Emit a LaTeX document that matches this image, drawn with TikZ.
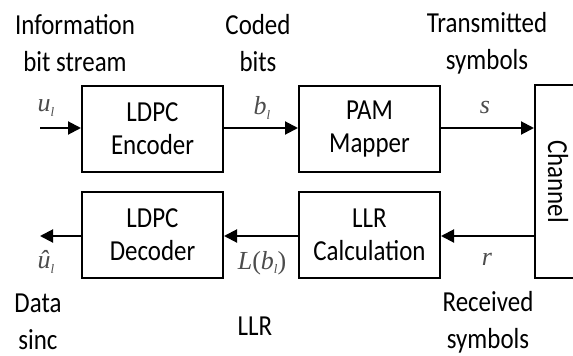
\documentclass[tikz,border=0pt]{standalone}
\usepackage{fontspec}
\setmainfont{Carlito}[FakeStretch=0.86]
\newfontfamily\tms{Liberation Serif}
\usetikzlibrary{arrows.meta}
\newcommand{\mv}[2]{{\tms\itshape #1\raisebox{-0.35ex}{\fontsize{13}{13}\selectfont #2}}}
\begin{document}
\begin{tikzpicture}[x=1pt,y=-1pt,
  blk/.style={draw,line width=2pt,minimum width=141pt,minimum height=86pt,inner sep=0pt,align=center,font=\fontsize{29}{33}\selectfont},
  lbl/.style={align=center,font=\fontsize{29}{37}\selectfont,inner sep=0pt},
  sym/.style={inner sep=0pt,text=black!70,font=\fontsize{26}{26}\selectfont},
  conn/.style={line width=2pt,-{Triangle[length=13pt,width=13pt]}}]
\useasboundingbox (0,0) rectangle (573,356);
\clip (0,0) rectangle (573,356);
\node[blk] (enc) at (152.5,129) {LDPC\\Encoder};
\node[blk] (pam) at (369.5,129) {PAM\\Mapper};
\node[blk] (dec) at (152.5,235) {LDPC\\Decoder};
\node[blk] (llr) at (369.5,235) {LLR\\Calculation};
\node[draw,line width=2pt,minimum width=60pt,minimum height=193pt,inner sep=0pt] (ch) at (565,181.5) {};
\node[rotate=-90,inner sep=0pt,font=\fontsize{29}{29}\selectfont] (chl) at (558,181.5) {Channel};
\coordinate (in) at (40,128);
\coordinate (out) at (40,236);
\draw[conn] (in) -- (enc.west |- in);
\draw[conn] (enc.east |- in) -- (pam.west |- in);
\draw[conn] (pam.east |- in) -- (ch.west |- in);
\draw[conn] (ch.west |- out) -- (llr.east |- out);
\draw[conn] (llr.west |- out) -- (dec.east |- out);
\draw[conn] (dec.west |- out) -- (out);
\node[lbl] (t1) at (75,43) {Information\\bit stream};
\node[lbl] (t2) at (258,43) {Coded\\bits};
\node[lbl] (t3) at (487,43) {Transmitted\\symbols};
\node[lbl] (t4) at (38,322) {Data\\sinc};
\node[lbl] (t5) at (255,326) {LLR};
\node[lbl] (t6) at (488,322) {Received\\symbols};
\node[sym] (s1) at (46,108) {\mv{u}{l}};
\node[sym] (s2) at (262,108) {\mv{b}{l}};
\node[sym] (s3) at (485,108) {\tms\itshape s};
\node[sym] (s4) at (46,262) {\mv{\^u}{l}};
\node[sym] (s5) at (262,263) {{\tms\itshape L}{\tms(}\mv{b}{l}{\tms)}};
\node[sym] (s6) at (487,259) {\tms\itshape r};
\end{tikzpicture}
\end{document}
